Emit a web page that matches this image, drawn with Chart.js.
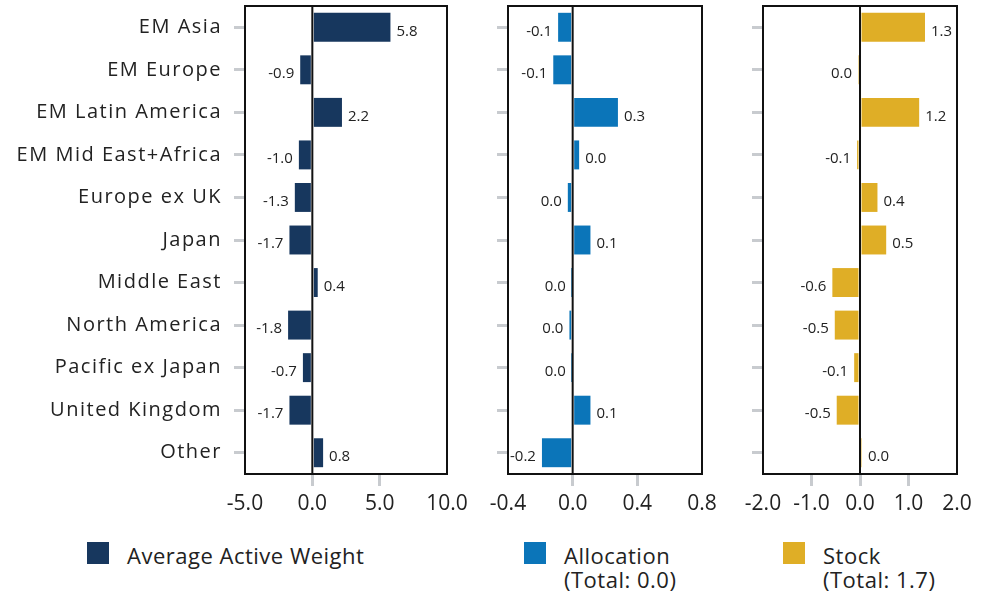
<!DOCTYPE html>
<html lang="en">
<head>
  <meta charset="UTF-8">
  <title>Active weight and attribution by region</title>
  <script src="https://cdn.jsdelivr.net/npm/chart.js"></script>
  <style>
    body { margin: 0; background: #fff; font-family: "Open Sans", sans-serif; color: #222; }
    #wrap { position: relative; width: 989px; height: 591px; }
    .panel { position: absolute; top: 0; height: 520px; }
    .key { position: absolute; top: 542px; width: 22px; height: 22px; }
    .keytext { position: absolute; top: 543px; font-size: 22px; line-height: 24px; letter-spacing: 0.5px; }
  </style>
</head>
<body>
<div id="wrap">
  <div class="panel" style="left:0;width:480px"><canvas id="weightChart"></canvas></div>
  <div class="panel" style="left:480px;width:240px"><canvas id="allocChart"></canvas></div>
  <div class="panel" style="left:720px;width:269px"><canvas id="stockChart"></canvas></div>
  <div id="legend"></div>
</div>

<script>
  // categories
  const regions = ["EM Asia", "EM Europe", "EM Latin America", "EM Mid East+Africa", "Europe ex UK",
    "Japan", "Middle East", "North America", "Pacific ex Japan", "United Kingdom", "Other"];

  // series values
  const activeWeight = [5.8, -0.9, 2.2, -1.0, -1.3, -1.7, 0.4, -1.8, -0.7, -1.7, 0.8];
  const allocation = [-0.09, -0.12, 0.28, 0.04, -0.03, 0.11, -0.005, -0.02, -0.005, 0.11, -0.19];
  const stock = [1.34, -0.04, 1.22, -0.06, 0.36, 0.54, -0.57, -0.52, -0.12, -0.48, 0.04];

  // x axis tick labels
  const weightTicks = [-5, 0, 5, 10];
  const allocTicks = [-0.4, 0, 0.4, 0.8];
  const stockTicks = [-2, -1, 0, 1, 2];

  // legend
  const seriesNames = ["Average Active Weight", "Allocation", "Stock"];
  const seriesNotes = ["", "(Total: 0.0)", "(Total: 1.7)"];
  const seriesColors = ["#17375e", "#0b75b9", "#dfae26"];

  const tickGray = "#c8cbcf";
  const fmt = v => { const s = v.toFixed(1); return s === "-0.0" ? "0.0" : s; };

  // value labels at the bar ends
  const barLabels = {
    id: "barLabels",
    afterDatasetsDraw(chart) {
      const ctx = chart.ctx;
      const vals = chart.data.datasets[0].data;
      ctx.save();
      ctx.font = '15px "Open Sans"';
      ctx.fillStyle = "#222";
      ctx.textBaseline = "middle";
      chart.getDatasetMeta(0).data.forEach((bar, i) => {
        const neg = vals[i] < 0;
        ctx.textAlign = neg ? "right" : "left";
        ctx.fillText(fmt(vals[i]), bar.x + (neg ? -6 : 6), bar.y + 4);
      });
      ctx.restore();
    }
  };

  // box round the plot and the zero line
  const frame = {
    id: "frame",
    afterDatasetsDraw(chart) {
      const { ctx, chartArea: a } = chart;
      const x0 = chart.scales.x.getPixelForValue(0);
      ctx.save();
      ctx.strokeStyle = "#111";
      ctx.lineWidth = 2;
      ctx.beginPath();
      ctx.moveTo(x0, a.top);
      ctx.lineTo(x0, a.bottom);
      ctx.stroke();
      ctx.strokeRect(a.left, a.top, a.right - a.left, a.bottom - a.top);
      ctx.restore();
    }
  };

  // wider spacing for the region names, like the original font
  function spacedLabels(scale) {
    if (scale._spaced) return;
    scale._spaced = true;
    const draw = scale.drawLabels;
    scale.drawLabels = function (area) {
      const ctx = this.ctx;
      ctx.save();
      ctx.letterSpacing = "1.5px";
      draw.call(this, area);
      ctx.restore();
    };
  }

  function makeChart(id, values, color, xTicks, yWidth, padRight, showNames) {
    return new Chart(document.getElementById(id), {
      type: "bar",
      data: {
        labels: regions,
        datasets: [{ data: values, backgroundColor: color, barPercentage: 0.68, categoryPercentage: 1 }]
      },
      options: {
        indexAxis: "y",
        responsive: true,
        maintainAspectRatio: false,
        animation: false,
        layout: { padding: { top: 6, right: padRight, left: 0, bottom: 0 } },
        plugins: { legend: { display: false }, tooltip: { enabled: false } },
        scales: {
          x: {
            min: xTicks[0],
            max: xTicks[xTicks.length - 1],
            afterBuildTicks: s => { s.ticks = xTicks.map(v => ({ value: v })); },
            afterFit: s => { s.height = 46; s.paddingLeft = 0; s.paddingRight = 0; },
            border: { display: false },
            grid: {
              drawOnChartArea: false,
              tickLength: 12,
              lineWidth: 3,
              color: c => (c.index === 0 || c.index === xTicks.length - 1) ? "rgba(0,0,0,0)" : tickGray
            },
            ticks: {
              autoSkip: false,
              maxRotation: 0,
              padding: 5,
              color: "#222",
              font: { family: "Open Sans", size: 21 },
              callback: v => fmt(v)
            }
          },
          y: {
            afterFit: s => { s.width = yWidth; s.paddingTop = 0; s.paddingBottom = 0; spacedLabels(s); },
            border: { display: false },
            grid: { offset: false, drawOnChartArea: false, tickLength: 11, lineWidth: 3, color: tickGray },
            ticks: {
              padding: 12,
              color: "#222",
              font: { family: "Open Sans", size: 20 },
              callback: (v, i) => showNames ? regions[i] : ""
            }
          }
        }
      },
      plugins: [barLabels, frame]
    });
  }

  makeChart("weightChart", activeWeight, seriesColors[0], weightTicks, 245, 33, true);
  makeChart("allocChart", allocation, seriesColors[1], allocTicks, 28, 18, false);
  makeChart("stockChart", stock, seriesColors[2], stockTicks, 43, 32, false);

  // legend under each panel
  const keyLeft = [87, 524, 783];
  const legend = document.getElementById("legend");
  seriesNames.forEach((name, i) => {
    const box = document.createElement("div");
    box.className = "key";
    box.style.left = keyLeft[i] + "px";
    box.style.background = seriesColors[i];
    const txt = document.createElement("div");
    txt.className = "keytext";
    txt.style.left = (keyLeft[i] + 40) + "px";
    txt.innerHTML = name + (seriesNotes[i] ? "<br>" + seriesNotes[i] : "");
    legend.appendChild(box);
    legend.appendChild(txt);
  });
</script>
</body>
</html>
